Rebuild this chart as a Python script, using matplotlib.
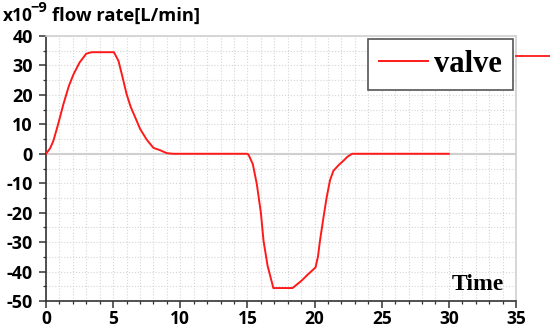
import matplotlib
matplotlib.use("Agg")
import matplotlib.pyplot as plt
from matplotlib.lines import Line2D
from matplotlib.ticker import MultipleLocator

# flow rate of the valve (x1e-9 L/min)
time = [0, 0.3, 0.55, 0.9, 1.3, 1.7, 2.05, 2.5, 3.0, 3.4, 5.06, 5.4, 5.7, 6.0, 6.3, 6.65, 7.0, 7.5, 8.0, 8.5, 9.0, 9.5,
        15.0, 15.1, 15.4, 15.7, 16.0, 16.2, 16.5, 16.93, 18.36, 19.03, 19.5, 20.07, 20.25, 20.4, 20.65, 20.9, 21.15,
        21.4, 21.8, 22.14, 22.45, 22.8, 30.0]
flow = [0, 1.8, 4.4, 10.0, 16.9, 23.0, 27.0, 31.0, 34.0, 34.5, 34.5, 31.5, 26.0, 20.3, 16.0, 12.3, 8.5, 4.8, 2.0, 1.2, 0.2, 0.0,
        0.0, -0.5, -3.5, -10.3, -20.0, -29.6, -38.0, -45.6, -45.6, -43.1, -41.0, -38.6, -35.0, -29.6, -22.0, -14.8, -9.0,
        -5.8, -3.8, -2.4, -1.0, 0.0, 0.0]

x_ticks = [0, 5, 10, 15, 20, 25, 30, 35]
y_ticks = [-50, -40, -30, -20, -10, 0, 10, 20, 30, 40]

sans = ["Open Sans", "DejaVu Sans"]
serif = ["Liberation Serif", "DejaVu Serif"]
plt.rcParams["axes.unicode_minus"] = False

fig = plt.figure(figsize=(5.5, 3.3), dpi=100)
ax = fig.add_axes([46 / 550, 1 - 301 / 330, 470 / 550, 265 / 330])

ax.axhline(0, color="#cfcfcf", lw=1.5, zorder=1)
ax.plot(time, flow, color="#ff1a1a", lw=1.4, zorder=3, label="valve")

ax.set_xlim(0, 35)
ax.set_ylim(-50, 40)
ax.set_xticks(x_ticks)
ax.set_yticks(y_ticks)
ax.xaxis.set_minor_locator(MultipleLocator(1))
ax.yaxis.set_minor_locator(MultipleLocator(5))
ax.grid(which="both", ls=":", color="#d6d6d6", lw=0.8)
ax.set_axisbelow(True)

for side in ["top", "right"]:
    ax.spines[side].set_color("#d0d0d0")
    ax.spines[side].set_linewidth(1.2)
for side in ["left", "bottom"]:
    ax.spines[side].set_color("#333333")
    ax.spines[side].set_linewidth(1.2)

ax.tick_params(which="major", length=5, width=1.1, color="#333333")
ax.tick_params(which="minor", length=2.5, width=0.9, color="#333333")
ax.tick_params(axis="y", which="major", pad=4.5)
ax.tick_params(axis="x", which="major", pad=1.5)
ax.tick_params(top=False, right=False)
for lab in ax.get_yticklabels():
    lab.set_family(sans)
    lab.set_fontweight("bold")
    lab.set_fontsize(13)
for lab in ax.get_xticklabels():
    lab.set_family(sans)
    lab.set_fontweight("bold")
    lab.set_fontsize(12.5)

leg = ax.legend(loc="upper right", bbox_to_anchor=(0.994, 0.989), borderaxespad=0, fancybox=False,
                framealpha=1, edgecolor="#555555", handlelength=1.6, handletextpad=0.2, borderpad=0.36,
                prop={"family": serif, "weight": "bold", "size": 22})
leg.get_frame().set_linewidth(1.2)

# stray legend stroke sticking out of the box in the original picture
fig.add_artist(Line2D([516 / 550, 1.0], [1 - 56 / 330, 1 - 56 / 330], color="#ff1a1a", lw=1.3))

ax.text(0.974, 0.042, "Time", transform=ax.transAxes, ha="right", va="baseline",
        family=serif, fontweight="bold", fontsize=17)

fig.text(3 / 550, 1 - 21 / 330, "x10", ha="left", va="baseline",
         family=sans, fontweight="bold", fontsize=12.5)
fig.text(30 / 550, 1 - 12 / 330, "\u22129", ha="left", va="baseline",
         family=sans, fontweight="bold", fontsize=10.5)
fig.text(52 / 550, 1 - 21 / 330, "flow rate[L/min]", ha="left", va="baseline",
         family=sans, fontweight="bold", fontsize=13.2)

fig.savefig("out.png", dpi=100)
